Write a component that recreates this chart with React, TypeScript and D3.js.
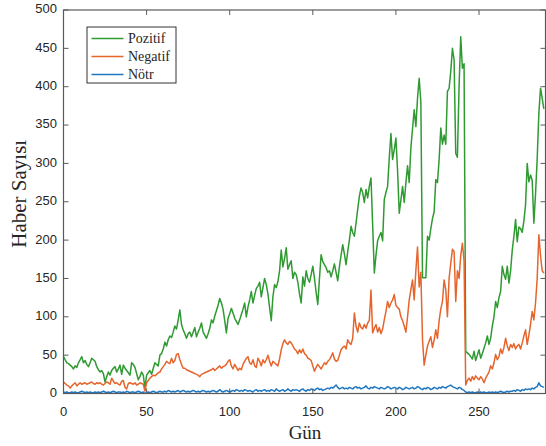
import React from 'react';
import * as d3 from 'd3';

// daily news counts (day 0..289)
const pozitif = [
  48, 44, 40, 39, 37, 35, 32, 36, 34, 40,
  44, 48, 40, 43, 38, 35, 40, 46, 44, 42,
  35, 31, 28, 30, 26, 15, 22, 28, 24, 30,
  33, 35, 28, 32, 37, 25, 37, 33, 30, 27,
  24, 40, 38, 34, 26, 18, 22, 28, 24, 7,
  24, 27, 30, 25, 33, 40, 38, 36, 50, 52,
  58, 67, 62, 70, 75, 73, 80, 88, 84, 96,
  109, 90, 83, 78, 72, 78, 80, 74, 80, 86,
  74, 80, 85, 92, 80, 76, 72, 78, 85, 96,
  92, 101, 108, 115, 124, 118, 110, 95, 79, 98,
  104, 111, 105, 98, 94, 90, 96, 103, 110, 118,
  100, 113, 122, 133, 118, 128, 137, 140, 145, 126,
  138, 150, 142, 130, 112, 95, 126, 142, 138, 146,
  160, 187, 165, 176, 190, 162, 168, 173, 150, 158,
  155, 145, 130, 118, 152, 140, 160, 150, 145, 155,
  166, 150, 132, 116, 150, 181, 172, 168, 164, 158,
  160, 152, 160, 169, 158, 147, 165, 180, 194, 182,
  168, 185, 200, 218, 210, 205, 222, 240, 257, 268,
  262, 249, 266, 255, 270, 281, 220, 157, 180, 199,
  205, 210, 199, 253, 262, 270, 307, 339, 305, 318,
  333, 290, 235, 252, 270, 249, 275, 297, 275, 320,
  345, 370, 348, 385, 411, 380, 151, 151, 151, 205,
  200, 215, 228, 237, 279, 275, 305, 346, 325, 337,
  325, 394, 398, 420, 450, 435, 313, 308, 400, 465,
  424, 430, 55, 53, 51, 48, 45, 55, 43, 50,
  57, 46, 52, 59, 66, 75, 64, 72, 88, 100,
  120, 112, 125, 133, 166, 155, 149, 166, 144, 160,
  187, 205, 227, 198, 217, 215, 210, 225, 246, 300,
  276, 285, 278, 222, 260, 306, 365, 398, 385, 371,
];

const negatif = [
  15, 13, 11, 10, 7, 10, 12, 14, 10, 12,
  14, 12, 13, 14, 12, 13, 14, 15, 13, 12,
  14, 13, 14, 12, 11, 13, 15, 14, 12, 20,
  16, 13, 14, 12, 11, 16, 17, 8, 6, 13,
  14, 13, 12, 14, 11, 12, 14, 13, 12, 3,
  14, 17, 20, 22, 24, 23, 25, 27, 28, 32,
  35, 38, 42, 40, 39, 46, 40, 43, 51, 52,
  44, 38, 33, 33, 31, 30, 29, 28, 27, 26,
  25, 24, 22, 25, 26, 27, 28, 29, 30, 31,
  33, 30, 32, 34, 36, 33, 35, 36, 38, 42,
  44, 36, 32, 38, 34, 30, 33, 31, 38, 42,
  46, 48, 40, 38, 44, 36, 34, 46, 42, 36,
  44, 40, 44, 50, 42, 36, 42, 40, 38, 36,
  45, 57, 65, 70, 66, 64, 68, 66, 62, 58,
  56, 52, 57, 53, 58, 52, 50, 46, 45, 43,
  36, 29, 34, 38, 35, 32, 36, 40, 38, 42,
  44, 48, 53, 45, 42, 43, 50, 57, 60, 62,
  58, 70, 66, 64, 72, 105, 88, 80, 92, 86,
  84, 90, 85, 92, 95, 135, 79, 85, 90, 80,
  86, 78, 84, 96, 107, 120, 112, 118, 122, 129,
  115, 112, 110, 100, 95, 88, 80, 100, 122, 135,
  148, 122, 160, 191, 139, 158, 70, 37, 50, 62,
  68, 74, 60, 70, 83, 72, 95, 110, 120, 148,
  135, 100, 150, 170, 188, 185, 120, 160, 150, 180,
  196, 173, 11, 17, 20, 16, 22, 18, 23, 20,
  18, 22, 19, 14, 20, 24, 28, 36, 32, 40,
  51, 44, 48, 58, 52, 60, 72, 62, 56, 64,
  60, 65, 58, 62, 64, 58, 66, 75, 83, 64,
  76, 90, 107, 96, 118, 150, 207, 180, 160, 157,
];

const notr = [
  2, 1, 2, 1, 1, 2, 1, 2, 1, 1,
  2, 3, 2, 1, 2, 1, 2, 1, 1, 2,
  1, 2, 1, 2, 3, 2, 1, 2, 1, 2,
  3, 2, 1, 2, 2, 1, 2, 1, 3, 2,
  1, 2, 2, 1, 2, 3, 2, 1, 2, 0,
  1, 2, 1, 2, 3, 2, 1, 2, 3, 2,
  2, 3, 2, 4, 3, 2, 3, 2, 3, 4,
  2, 3, 4, 3, 2, 3, 2, 3, 4, 3,
  2, 3, 2, 3, 4, 3, 2, 3, 2, 3,
  4, 3, 2, 3, 5, 3, 2, 3, 4, 3,
  2, 3, 4, 3, 5, 4, 3, 4, 3, 5,
  4, 3, 4, 3, 2, 4, 5, 3, 4, 3,
  4, 5, 3, 4, 3, 5, 4, 3, 6, 4,
  3, 4, 5, 3, 4, 6, 4, 3, 5, 4,
  5, 4, 3, 5, 6, 4, 3, 5, 4, 6,
  5, 4, 6, 7, 5, 6, 4, 5, 6, 7,
  6, 8, 7, 9, 11, 8, 6, 7, 8, 6,
  7, 6, 8, 7, 6, 8, 9, 7, 8, 6,
  7, 8, 10, 7, 6, 8, 7, 9, 8, 7,
  6, 8, 7, 6, 7, 9, 8, 6, 7, 8,
  7, 6, 8, 7, 5, 6, 8, 7, 6, 7,
  8, 6, 7, 9, 8, 6, 5, 7, 6, 8,
  7, 5, 6, 8, 7, 6, 8, 7, 9, 8,
  7, 9, 10, 11, 9, 8, 7, 6, 8, 7,
  5, 4, 2, 1, 2, 1, 2, 1, 1, 2,
  1, 2, 1, 2, 1, 1, 2, 1, 2, 1,
  2, 1, 2, 3, 2, 1, 2, 3, 2, 3,
  3, 4, 3, 5, 4, 3, 5, 4, 6, 5,
  6, 5, 7, 6, 8, 9, 14, 10, 9, 8,
];

const xTicks = [0, 50, 100, 150, 200, 250];
const yTicks = [0, 50, 100, 150, 200, 250, 300, 350, 400, 450, 500];

const seriesList = [
  { name: 'Pozitif', values: pozitif, color: '#2f9a32' },
  { name: 'Negatif', values: negatif, color: '#e5652d' },
  { name: 'Nötr', values: notr, color: '#1f78c1' },
];

const W = 546;
const H = 446;
const left = 63.5, right = 545.5, top = 10, bottom = 393.5;

export default function App() {
  const x = d3.scaleLinear().domain([0, 290]).range([left, right]);
  const y = d3.scaleLinear().domain([0, 500]).range([bottom, top]);
  const line = d3.line<number>().x((d, i) => x(i)).y(d => y(d));

  const axisColor = '#5a5a5a';
  const tickLen = 5;
  const sans = 'Liberation Sans, Arial, sans-serif';
  const serif = 'Liberation Serif, Times New Roman, serif';

  return (
    <div style={{ position: 'absolute', left: 0, top: 0 }}>
      <svg width={W} height={H} style={{ display: 'block', background: '#fff' }}>
        <defs>
          <clipPath id="plot">
            <rect x={left} y={top} width={right - left} height={bottom - top} />
          </clipPath>
        </defs>

        {/* series */}
        <g clipPath="url(#plot)">
          {seriesList.map(s => (
            <path key={s.name} d={line(s.values) || ''} fill="none"
              stroke={s.color} strokeWidth={1.5} strokeLinejoin="round" />
          ))}
        </g>

        {/* box + inward ticks */}
        <rect x={left} y={top} width={right - left} height={bottom - top}
          fill="none" stroke={axisColor} strokeWidth={1.2} />
        {xTicks.map(t => (
          <g key={'x' + t}>
            <line x1={x(t)} x2={x(t)} y1={bottom} y2={bottom - tickLen} stroke={axisColor} />
            <line x1={x(t)} x2={x(t)} y1={top} y2={top + tickLen} stroke={axisColor} />
            <text x={x(t)} y={413} textAnchor="middle" dominantBaseline="middle"
              fontFamily={sans} fontSize={13} fill="#262626">{t}</text>
          </g>
        ))}
        {yTicks.map(t => (
          <g key={'y' + t}>
            <line x1={left} x2={left + tickLen} y1={y(t)} y2={y(t)} stroke={axisColor} />
            <line x1={right} x2={right - tickLen} y1={y(t)} y2={y(t)} stroke={axisColor} />
            <text x={57} y={y(t)} textAnchor="end" dominantBaseline="middle"
              fontFamily={sans} fontSize={13} fill="#262626">{t}</text>
          </g>
        ))}

        {/* axis titles */}
        <text x={305} y={439} textAnchor="middle" fontFamily={serif} fontSize={19} fill="#262626">Gün</text>
        <text transform={`translate(26,${(top + bottom) / 2 - 8}) rotate(-90)`} textAnchor="middle"
          fontFamily={serif} fontSize={21} fill="#262626">Haber Sayısı</text>

        {/* legend */}
        <rect x={87} y={27} width={89} height={56} fill="#fff" stroke="#333" strokeWidth={1} />
        {seriesList.map((s, i) => (
          <g key={'l' + s.name}>
            <line x1={91.5} x2={123.5} y1={38.5 + i * 18} y2={38.5 + i * 18} stroke={s.color} strokeWidth={1.5} />
            <text x={128} y={38.5 + i * 18} dominantBaseline="central" fontFamily={serif}
              fontSize={14} fill="#262626">{s.name}</text>
          </g>
        ))}
      </svg>
    </div>
  );
}
